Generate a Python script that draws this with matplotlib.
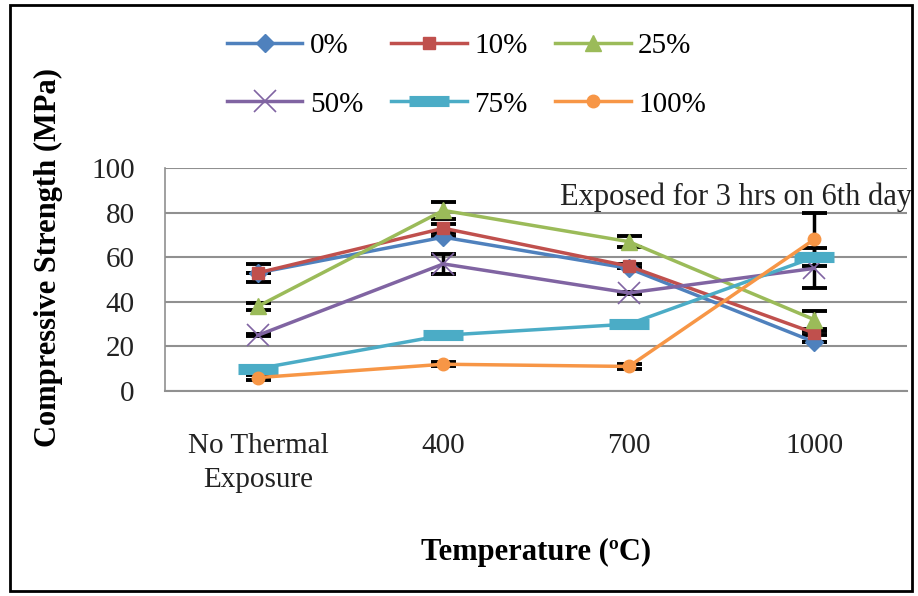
import numpy as np
import matplotlib
matplotlib.use("Agg")
import matplotlib.pyplot as plt
from matplotlib.patches import Rectangle

plt.rcParams['font.family'] = ['Liberation Serif', 'DejaVu Serif']

categories = ['No Thermal\nExposure', '400', '700', '1000']
series_labels = ['0%', '10%', '25%', '50%', '75%', '100%']

s0 = [53, 69, 55, 22]
s10 = [53, 73, 56, 26]
s25 = [38, 81, 67, 32]
s50 = [25, 57, 44, 55]
s75 = [10, 25, 30, 60]
s100 = [6, 12, 11, 68]

e0 = [0, 0, 0, 0]
e10 = [4, 2, 1, 1]
e25 = [1.5, 4, 2.5, 4]
e50 = [0.5, 4.5, 0.5, 9]
e75 = [0, 0, 0, 0]
e100 = [1, 1, 1, 12]

colors = ['#4F81BD', '#C0504D', '#9BBB59', '#8064A2', '#4BACC6', '#F79646']
markers = ['D', 's', '^', 'x', '_', 'o']
msizes = [9, 9, 11, 16, 29, 9]
mews = [1, 1, 1, 1.2, 8, 1]

values = [s0, s10, s25, s50, s75, s100]
errors = [e0, e10, e25, e50, e75, e100]

fig = plt.figure(figsize=(9.18, 5.96), dpi=100)
ax = fig.add_axes([0.18, 0.344, 0.808, 0.374])

x = np.arange(len(categories))
handles = []
for vals, errs, c, m, ms, mw, lab in zip(values, errors, colors, markers, msizes, mews, series_labels):
    ax.errorbar(x, vals, yerr=errs, fmt='none', ecolor='black', elinewidth=2.5,
                capsize=9, capthick=2.8, zorder=2.5)
    h, = ax.plot(x, vals, color=c, marker=m, markersize=ms, markeredgewidth=mw,
                 markeredgecolor=c, linewidth=2.5, label=lab, zorder=3)
    handles.append(h)

ax.set_xlim(-0.5, 3.5)
ax.set_ylim(0, 100)
ax.set_yticks(np.arange(0, 101, 20))
ax.set_xticks(x)
ax.set_xticklabels(categories, linespacing=1.4)
ax.tick_params(length=0, labelsize=21, colors='#222222')
ax.tick_params(axis='y', pad=22)
ax.tick_params(axis='x', pad=30)
ax.yaxis.grid(True, color='#909090', linewidth=1.5)
ax.set_axisbelow(True)
for side in ['top', 'right']:
    ax.spines[side].set_visible(False)
ax.spines['left'].set_color('#909090')
ax.spines['bottom'].set_color('#909090')
ax.spines['left'].set_linewidth(1.2)
ax.spines['bottom'].set_linewidth(1.5)

ax.text(1.007, 0.87, 'Exposed for 3 hrs on 6th day', transform=ax.transAxes,
        ha='right', va='center', fontsize=22, color='#222222')

ax.set_ylabel('Compressive Strength (MPa)', fontsize=22, fontweight='bold')
ax.yaxis.set_label_coords(-0.138, 0.60)
ax.set_xlabel('Temperature (ºC)', fontsize=22, fontweight='bold')
ax.xaxis.set_label_coords(0.5, -0.66)

# matplotlib fills legend columns first, so reorder to read row-wise
order = [0, 3, 1, 4, 2, 5]
fig.legend(handles=[handles[i] for i in order], loc='center', bbox_to_anchor=(0.508, 0.874),
           ncol=3, frameon=False, fontsize=21, handlelength=2.6, columnspacing=0.95,
           labelspacing=1.1, handletextpad=0.25)

fig.patches.append(Rectangle((0.011, 0.008), 0.983, 0.984, transform=fig.transFigure,
                             fill=False, edgecolor='black', linewidth=2))

fig.savefig('out.png', dpi=100)
